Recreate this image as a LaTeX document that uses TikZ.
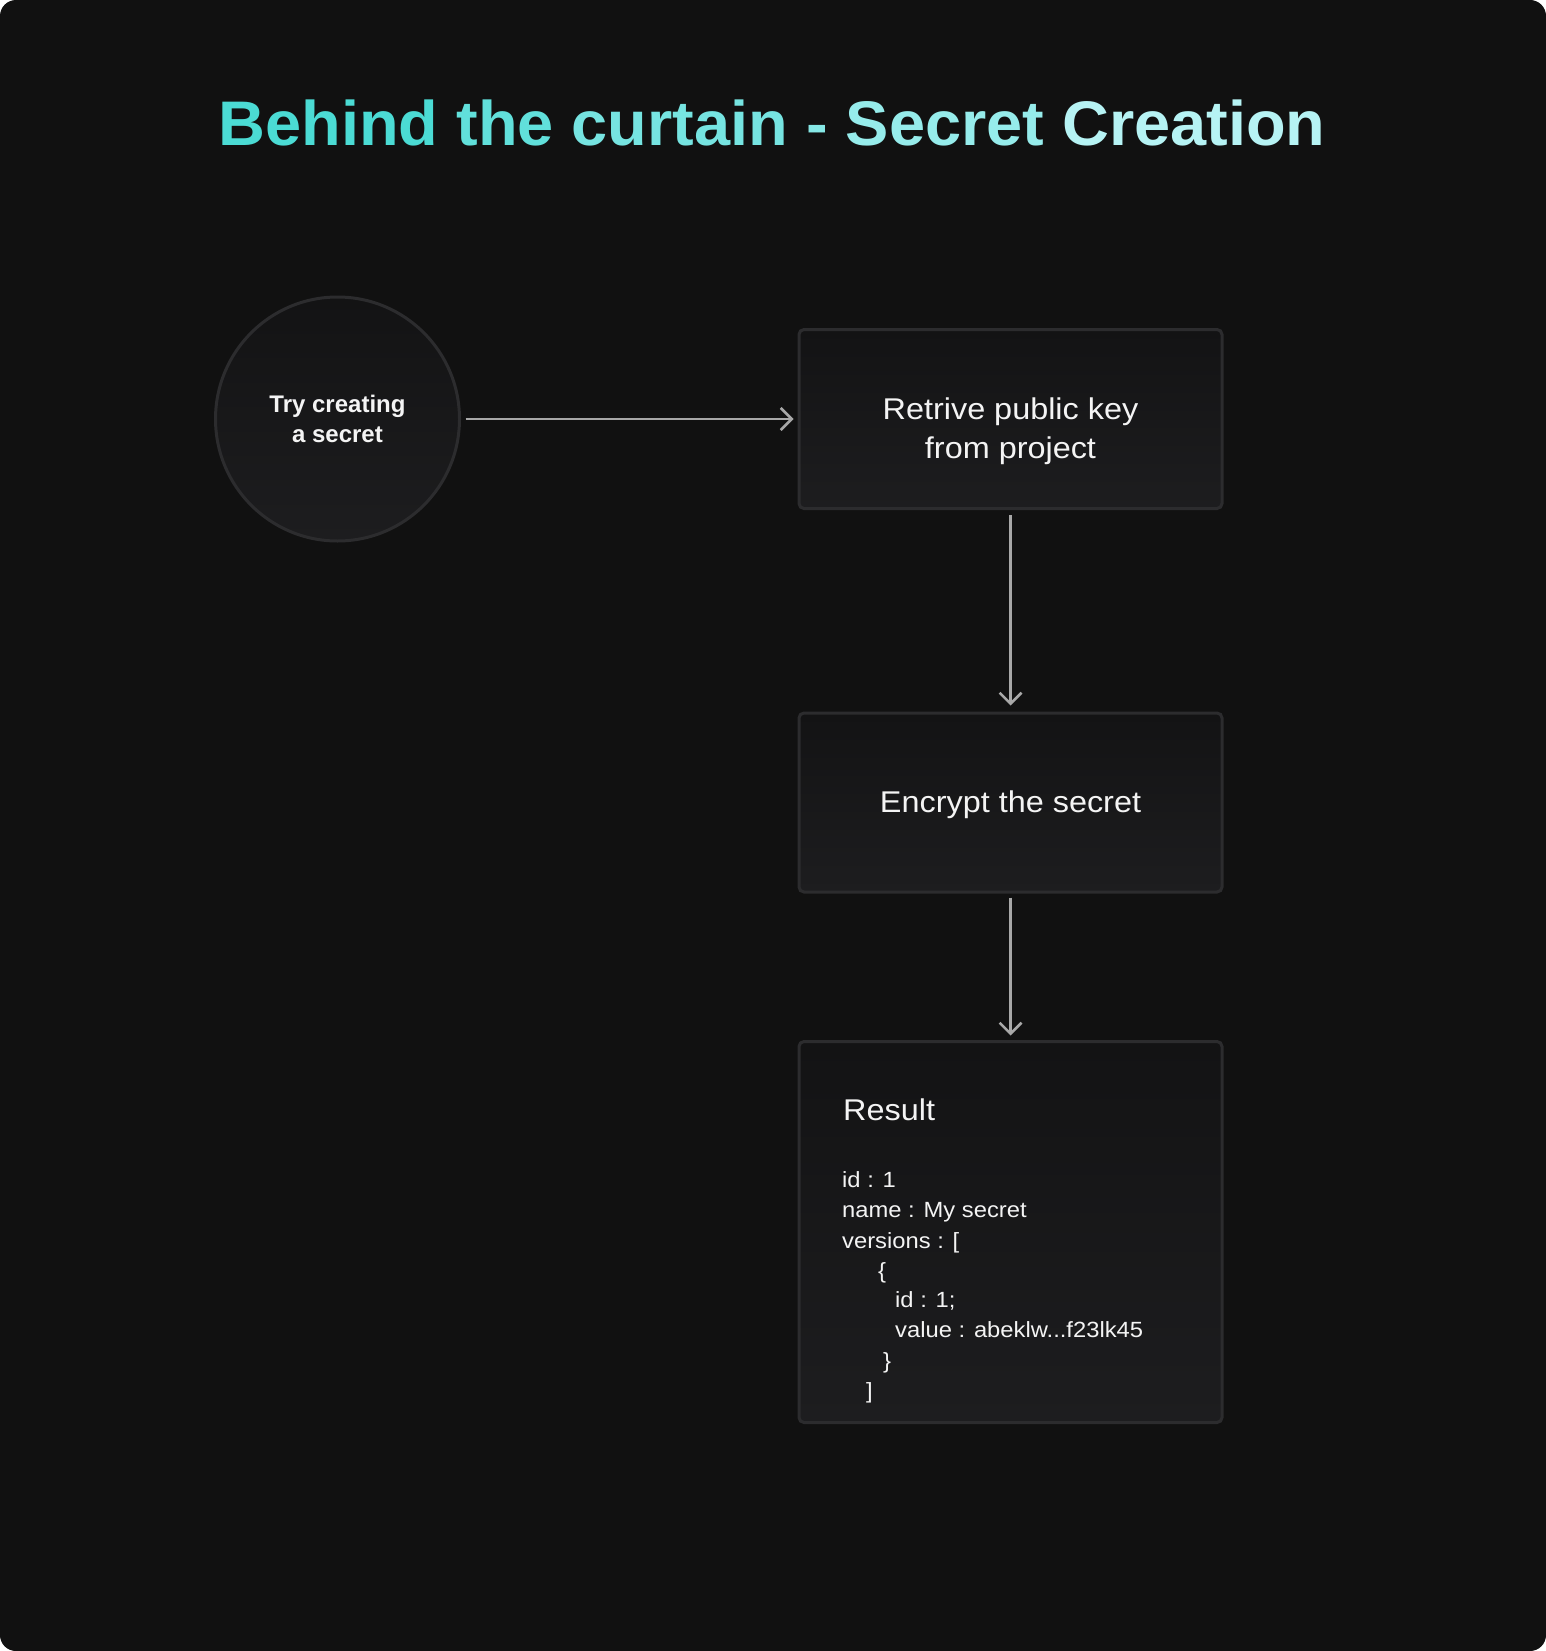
\documentclass[tikz,border=0pt]{standalone}
\usepackage{fontspec}
\setmainfont{Liberation Sans}[FakeStretch=1.08]
\newfontfamily\headfont{Liberation Sans}[FakeStretch=1.03]
\newfontfamily\startfont{Liberation Sans}
\usetikzlibrary{positioning,arrows.meta,shapes}
\definecolor{bg}{HTML}{111111}
\definecolor{edge}{HTML}{2C2C2E}
\definecolor{cardtop}{HTML}{131314}
\definecolor{cardbot}{HTML}{1D1D1F}
\definecolor{wire}{HTML}{A8A8A8}
\definecolor{ink}{HTML}{F4F4F4}
\definecolor{headA}{HTML}{3ED8D0}
\definecolor{headB}{HTML}{C6F6F9}

\begin{document}
\begin{tikzpicture}[x=1pt, y=-1pt,
  card/.style={draw=edge, line width=3pt, rounded corners=5pt, top color=cardtop, bottom color=cardbot, minimum width=423pt, minimum height=179pt, inner sep=0pt, text=ink, font=\fontsize{30}{39}\selectfont, align=center},
  start/.style={circle, draw=edge, line width=3pt, top color=cardtop, bottom color=cardbot, minimum size=244pt, inner sep=0pt, text=ink, font=\startfont\bfseries\fontsize{24}{30}\selectfont, align=center},
  flow/.style={draw=wire, line width=2.5pt, -{Straight Barb[length=11pt, width=22pt]}},
  code/.style={anchor=base west, inner sep=0pt, text=ink, font=\fontsize{22}{30}\selectfont}]
\useasboundingbox (0,0) rectangle (1546,1651);
\fill[white] (0,0) rectangle (1546,1651);
\fill[bg, rounded corners=16pt] (0,0) rectangle (1546,1651);

% title
\node[font=\headfont\bfseries\fontsize{63}{70}\selectfont, anchor=base] (head) at (772,146) {\textcolor{headB!10!headA}{Behind} \textcolor{headB!26!headA}{the} \textcolor{headB!41!headA}{curtain} \textcolor{headB!53!headA}{-} \textcolor{headB!65!headA}{Secret} \textcolor{headB!88!headA}{Creation}};

% steps
\node[start] (try) at (337.5,419) {Try creating\\a secret};
\node[card, text depth=0pt] (key) at (1010.5,419) {};
\node[card] (enc) at (1010.5,802.5) {};
\node[card, minimum height=381pt] (res) at (1010.5,1232) {};
\node[text=ink, font=\fontsize{30}{39}\selectfont, align=center, yshift=-12pt] (keytxt) at (key.center) {Retrive public key\\from project};
\node[text=ink, font=\fontsize{30}{39}\selectfont, yshift=-2pt] (enctxt) at (enc.center) {Encrypt the secret};

% result listing
\node[code, font=\fontsize{30}{36}\selectfont] (restitle) at (843,1120.7) {Result};
\node[code] (l1) at (842,1187) {id : 1};
\node[code] (l2) at (842,1217) {name : My secret};
\node[code] (l3) at (842,1248) {versions : [};
\node[code] (l4) at (878,1278) {\{};
\node[code] (l5) at (895,1307) {id : 1;};
\node[code] (l6) at (895,1337) {value : abeklw...f23lk45};
\node[code] (l7) at (883,1368) {\}};
\node[code] (l8) at (866,1398) {]};

\draw[flow, shorten <=4.5pt, shorten >=4pt] (try) -- (key);
\draw[flow, shorten <=5pt, shorten >=6pt] (key) -- (enc);
\draw[flow, shorten <=4pt, shorten >=4.5pt] (enc) -- (res);
\end{tikzpicture}
\end{document}
